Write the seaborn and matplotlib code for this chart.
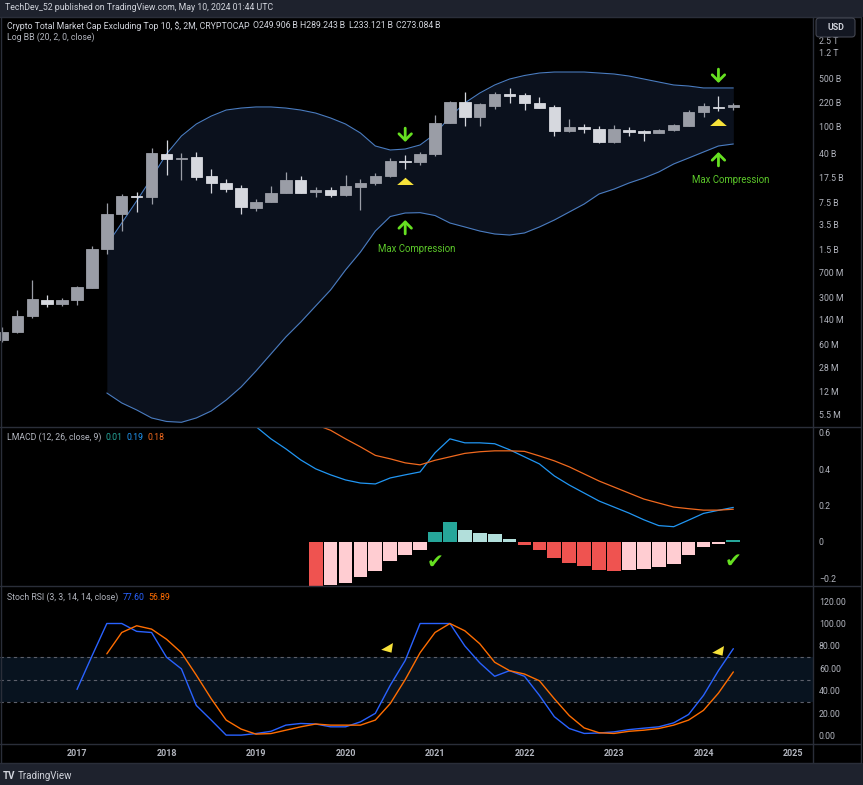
import numpy as np
import pandas as pd
import matplotlib
matplotlib.use('Agg')
import matplotlib.pyplot as plt
import seaborn as sns
from matplotlib.patches import Rectangle, FancyBboxPatch
from matplotlib.lines import Line2D
from matplotlib.ticker import FixedLocator, NullLocator

# ---------------- data (prices in billions USD) ----------------
first_bar = '2016-03-01'
opens = [0.070, 0.092, 0.160, 0.273, 0.236, 0.273, 0.41, 1.54, 5.0, 9.3,
         9.0, 38.9, 32.5, 35.5, 18.4, 14.7, 12.2, 6.3, 7.6, 10.5,
         16.1, 10.7, 11.4, 9.66, 12.8, 14.7, 18.4, 30.5, 29.8, 38.9,
         110, 229, 138, 200, 298, 288, 222, 190, 85, 98,
         92, 57.5, 89, 84, 78, 87.8, 102, 160, 195, 190]
highs = [0.110, 0.194, 0.54, 0.324, 0.29, 0.44, 1.7, 7.3, 10.0, 10.7,
         47, 62.5, 40, 41.6, 23.5, 16.7, 13.5, 8.3, 13.1, 21.1,
         18.4, 12.8, 12.8, 19.3, 16.7, 20.2, 33.7, 37.7, 41.6, 145,
         237, 316, 222, 316, 362, 305, 272, 205, 127, 106,
         100.6, 104, 98, 87.8, 92, 106, 173, 218, 279, 218]
lows = [0.066, 0.089, 0.150, 0.215, 0.22, 0.23, 0.41, 1.30, 2.8, 5.4,
        7.2, 18.8, 16.1, 15.8, 10.5, 10.6, 5.06, 5.7, 7.5, 10.3,
        10.3, 8.9, 8.9, 9.3, 5.8, 13.5, 18, 23.3, 26.7, 36,
        110, 102, 102, 178, 218, 173, 183, 71, 82, 78,
        56, 57, 71, 60, 78, 85, 100.6, 136, 169, 176]
closes = [0.092, 0.160, 0.28, 0.236, 0.273, 0.424, 1.54, 5.06, 9.3, 9.1,
          40, 32.5, 34.5, 18, 14.7, 12.0, 6.42, 7.6, 10.5, 16.1,
          10.5, 11.4, 9.66, 13.1, 14.7, 18.4, 31, 29.8, 38.9, 112,
          229, 138, 212, 298, 279, 218, 183, 85, 98, 90,
          57.5, 90, 82, 79, 89, 104, 164, 198, 183, 205]

bb_start = '2017-05-01'
bb_upper = [1.77, 3.73, 7.88, 17.2, 38.9, 71.6, 107.6, 141, 173, 185,
            192, 192, 185, 173, 156, 132, 107.6, 79.3, 51, 44.5,
            46, 52.8, 76.7, 137, 220, 308, 405, 496, 559, 608,
            629, 629, 629, 608, 588, 549, 496, 448, 405, 391,
            366, 366, 366]
bb_lower = [0.0116, 0.00827, 0.00652, 0.00497, 0.00441, 0.00429, 0.00497, 0.0063, 0.00914, 0.01423,
            0.0245, 0.0437, 0.0778, 0.129, 0.223, 0.384, 0.756, 1.39, 2.84, 4.65,
            5.24, 5.30, 4.81, 3.73, 3.26, 2.84, 2.57, 2.48, 2.66, 3.26,
            4.13, 5.42, 7.11, 10.0, 11.8, 14.5, 17.2, 21.1, 27.7, 33.9,
            41.6, 51, 54.6]

macd_start = '2018-09-01'
macd_line = [0.82, 0.72, 0.634, 0.567, 0.512, 0.451, 0.402, 0.369,
             0.341, 0.324, 0.319, 0.352, 0.369, 0.385,
             0.49, 0.567, 0.545, 0.545, 0.540, 0.507,
             0.468, 0.429, 0.363, 0.313, 0.269, 0.225,
             0.192, 0.159, 0.122, 0.09, 0.084, 0.12,
             0.157, 0.174, 0.19]
signal_line = [1.0, 0.93, 0.86, 0.80, 0.74, 0.69, 0.645, 0.614,
               0.567, 0.523, 0.476, 0.457, 0.435, 0.424,
               0.449, 0.468, 0.487, 0.496, 0.501, 0.501,
               0.498, 0.473, 0.446, 0.413, 0.374, 0.335,
               0.302, 0.269, 0.236, 0.214, 0.192, 0.183,
               0.175, 0.175, 0.18]
hist_start = '2019-09-01'
macd_hist = [-0.24, -0.238, -0.226, -0.193, -0.160, -0.105, -0.073, -0.042,
             0.055, 0.109, 0.065, 0.050, 0.043, 0.019,
             -0.014, -0.046, -0.086, -0.114, -0.132, -0.156,
             -0.157, -0.155, -0.150, -0.140, -0.121, -0.073,
             -0.027, -0.009, 0.013]

stoch_k_start = '2017-01-01'
stoch_k = [41.3, 71, 100, 100, 93, 92,
           70, 59.6, 27, 14, 0.6, 0.6,
           2, 4, 9.5, 11, 10.5, 8,
           8, 12.4, 20, 45, 67, 100,
           100, 100, 80, 65, 53, 58,
           53, 36, 17, 6.5, 2.1, 2.5,
           3.5, 5.5, 6.8, 8, 11.5, 19,
           36, 58, 77.6]
stoch_d_start = '2017-05-01'
stoch_d = [73, 92, 98, 95,
           86, 74, 54, 33, 14, 6,
           1.5, 2, 5, 8, 10.5, 9.5,
           9.5, 9.5, 14, 28.7, 50, 74,
           92, 100, 93.5, 82, 65.5, 58,
           55, 49, 33, 18, 7, 2.7,
           2.1, 4, 5, 6.5, 9.5, 14,
           22.7, 38, 56.89]

price_ticks = [2500, 1200, 500, 220, 100, 40, 17.5, 7.5, 3.5, 1.5,
               0.7, 0.3, 0.14, 0.06, 0.028, 0.012, 0.0055]
price_tick_labels = ['2.5 T', '1.2 T', '500 B', '220 B', '100 B', '40 B', '17.5 B', '7.5 B',
                     '3.5 B', '1.5 B', '700 M', '300 M', '140 M', '60 M', '28 M', '12 M', '5.5 M']
macd_ticks = [-0.2, 0.0, 0.2, 0.4, 0.6]
macd_tick_labels = ['\u22120.2', '0', '0.2', '0.4', '0.6']
stoch_ticks = [0, 20, 40, 60, 80, 100, 120]
stoch_tick_labels = ['0.00', '20.00', '40.00', '60.00', '80.00', '100.00', '120.00']
stoch_levels = [30, 50, 70]
year_ticks = [2017, 2018, 2019, 2020, 2021, 2022, 2023, 2024, 2025]

title_text = 'TechDev_52 published on TradingView.com, May 10, 2024 01:44 UTC'
symbol_text = 'Crypto Total Market Cap Excluding Top 10, $, 2M, CRYPTOCAP'
ohlc_parts = ['O249.906\u2009B', 'H289.243\u2009B', 'L233.121\u2009B', 'C273.084\u2009B']
bb_text = 'Log BB (20, 2, 0, close)'
macd_text = 'LMACD (12, 26, close, 9)'
macd_values = ['0.01', '0.19', '0.18']
stoch_text = 'Stoch RSI (3, 3, 14, 14, close)'
stoch_values = ['77.60', '56.89']
note_text = 'Max Compression'

# annotation anchors (decimal year, value)
arrow_down_tips = [(2020.667, 58.4), (2024.167, 433)]
arrow_up_tips = [(2020.667, 4.13), (2024.167, 41.6)]
yellow_price_marks = [(2020.667, 15.5), (2024.167, 115)]
note_positions = [(2020.80, 1.54), (2024.30, 15.8)]
stoch_marks = [(2020.475, 78.5), (2024.168, 75.1)]
check_marks = [(2021.0, -0.11), (2024.333, -0.104)]

# ---------------- style ----------------
sns.set_style('dark', {'axes.facecolor': '#000000', 'figure.facecolor': '#000000'})
plt.rcParams['font.family'] = ['Roboto', 'DejaVu Sans']

BG = '#000000'
STRIP = '#1e222d'
SEP = '#2a2e39'
TXT = '#b2b5be'
TXT2 = '#d1d4dc'
UP = '#9a9da6'
DOWN = '#d6d8de'
BB_LINE = '#4a7cc0'
BB_FILL = '#0b111d'
MACD_C = '#2196f3'
SIG_C = '#f0691e'
K_C = '#2962ff'
D_C = '#ff6d00'
GREEN = '#66e021'
GREEN_T = '#5cc82a'
YELLOW = '#f7e23a'
FS = 6.3

W, H = 863, 785
fig = plt.figure(figsize=(W / 100, H / 100), dpi=100)
fig.patch.set_facecolor(BG)


def rect(x0, y0, x1, y1):
    return [x0 / W, 1 - y1 / H, (x1 - x0) / W, (y1 - y0) / H]


def dec_years(dates):
    d = pd.DatetimeIndex(dates)
    return np.asarray(d.year + (d.month - 1) / 12.0, dtype=float)


PLOT_R = 813
ax_p = fig.add_axes(rect(0, 17, PLOT_R, 427))
ax_m = fig.add_axes(rect(0, 427, PLOT_R, 586))
ax_s = fig.add_axes(rect(0, 586, PLOT_R, 744))
x_left = 2017 - 77 / 89.5
x_right = 2017 + (PLOT_R - 77) / 89.5

for ax in (ax_p, ax_m, ax_s):
    ax.set_facecolor(BG)
    ax.grid(False)
    for s in ax.spines.values():
        s.set_visible(False)
    ax.yaxis.tick_right()
    ax.tick_params(axis='y', length=0, pad=4.3, labelsize=FS, labelcolor=TXT)
    ax.tick_params(axis='x', length=0)

# ---------------- price panel ----------------
ax_p.set_yscale('log')
t_bars = dec_years(pd.date_range(first_bar, periods=len(opens), freq='2MS'))
o, h, l, c = (np.array(v, dtype=float) for v in (opens, highs, lows, closes))
cols = np.where(c >= o, UP, DOWN)

t_bb = dec_years(pd.date_range(bb_start, periods=len(bb_upper), freq='2MS'))
ax_p.fill_between(t_bb, bb_lower, bb_upper, color=BB_FILL, lw=0, zorder=1)
sns.lineplot(x=t_bb, y=bb_upper, ax=ax_p, color=BB_LINE, lw=0.8, zorder=2,
             estimator=None, sort=False)
sns.lineplot(x=t_bb, y=bb_lower, ax=ax_p, color=BB_LINE, lw=0.8, zorder=2,
             estimator=None, sort=False)

ax_p.vlines(t_bars, l, h, colors=cols, lw=0.9, zorder=3)
lo_b = np.minimum(o, c)
hi_b = np.maximum(o, c)
ax_p.bar(t_bars, hi_b - lo_b, bottom=lo_b, width=0.128, color=cols,
         edgecolor=cols, linewidth=0.6, zorder=4)

ax_p.set_ylim(0.003655, 4075)
ax_p.yaxis.set_major_locator(FixedLocator(price_ticks))
ax_p.yaxis.set_minor_locator(NullLocator())
# the top label sits just under the currency button, so it is drawn on its own below
ax_p.set_yticklabels([''] + price_tick_labels[1:])

# annotations on the price panel
for (tx, py) in arrow_down_tips:
    ax_p.annotate('', xy=(tx, py), xytext=(0, 10), textcoords='offset points',
                  arrowprops=dict(arrowstyle='->,head_length=0.45,head_width=0.45',
                                  color=GREEN, lw=2.0, shrinkA=0, shrinkB=0), zorder=6)
for (tx, py) in arrow_up_tips:
    ax_p.annotate('', xy=(tx, py), xytext=(0, -10), textcoords='offset points',
                  arrowprops=dict(arrowstyle='->,head_length=0.45,head_width=0.45',
                                  color=GREEN, lw=2.0, shrinkA=0, shrinkB=0), zorder=6)
tri = [(-1, -0.42), (1, -0.42), (0, 0.45)]
for (tx, py) in yellow_price_marks:
    ax_p.plot([tx], [py], marker=tri, ms=12, color=YELLOW, mec='none', ls='none', zorder=6)
for (tx, py) in note_positions:
    ax_p.text(tx, py, note_text, color=GREEN_T, fontsize=FS + 0.6, ha='center', va='center', zorder=6)

# ---------------- LMACD panel ----------------
t_macd = dec_years(pd.date_range(macd_start, periods=len(macd_line), freq='2MS'))
t_hist = dec_years(pd.date_range(hist_start, periods=len(macd_hist), freq='2MS'))
hcols = []
for i, v in enumerate(macd_hist):
    prev = macd_hist[i - 1] if i > 0 else None
    if v >= 0:
        hcols.append('#26a69a' if (prev is None or v > prev) else '#b2dfdb')
    else:
        hcols.append('#ef5350' if (prev is None or v < prev) else '#ffcdd2')
ax_m.bar(t_hist, macd_hist, width=0.154, color=hcols, linewidth=0, zorder=2)
sns.lineplot(x=t_macd, y=macd_line, ax=ax_m, color=MACD_C, lw=0.9, zorder=3,
             estimator=None, sort=False)
sns.lineplot(x=t_macd, y=signal_line, ax=ax_m, color=SIG_C, lw=0.9, zorder=3,
             estimator=None, sort=False)
ax_m.set_ylim(-0.242, 0.632)
ax_m.set_yticks(macd_ticks)
ax_m.set_yticklabels(macd_tick_labels)
for (tx, v) in check_marks:
    ax_m.text(tx, v, '\u2714', color=GREEN, fontsize=14.5, ha='center', va='center',
              family='DejaVu Sans', zorder=6)

# ---------------- Stoch RSI panel ----------------
ax_s.axhspan(min(stoch_levels), max(stoch_levels), color='#08131f', lw=0, zorder=1)
for lv in stoch_levels:
    ax_s.axhline(lv, color='#5d606b', lw=0.8, ls=(0, (3, 3)), zorder=2)
t_k = dec_years(pd.date_range(stoch_k_start, periods=len(stoch_k), freq='2MS'))
t_d = dec_years(pd.date_range(stoch_d_start, periods=len(stoch_d), freq='2MS'))
sns.lineplot(x=t_k, y=stoch_k, ax=ax_s, color=K_C, lw=1.0, zorder=3, estimator=None, sort=False)
sns.lineplot(x=t_d, y=stoch_d, ax=ax_s, color=D_C, lw=1.0, zorder=3, estimator=None, sort=False)
ax_s.set_ylim(-7.3, 133.4)
ax_s.set_yticks(stoch_ticks)
ax_s.set_yticklabels(stoch_tick_labels)
wedge = [(-6.8, -1.2), (4.2, 5.1), (2.8, -3.9)]
for (tx, v) in stoch_marks:
    ax_s.plot([tx], [v], marker=wedge, ms=10.5, color=YELLOW, mec='none', ls='none', zorder=6)

for ax in (ax_p, ax_m, ax_s):
    ax.set_xlim(x_left, x_right)
    ax.set_xlabel('')
    ax.set_ylabel('')
ax_p.set_xticks([])
ax_m.set_xticks([])
ax_s.set_xticks(year_ticks)
ax_s.set_xticklabels([str(y) for y in year_ticks])
ax_s.tick_params(axis='x', labelsize=FS + 0.2, labelcolor=TXT, pad=3.5)
for lab in ax_s.get_xticklabels():
    lab.set_fontweight('bold')

# ---------------- frame, strips, texts ----------------
fig.add_artist(Rectangle((0, 1 - 17 / H), 1, 17 / H, transform=fig.transFigure,
                         color=STRIP, lw=0, zorder=-1))
fig.add_artist(Rectangle((0, 0), 1, (H - 763) / H, transform=fig.transFigure,
                         color=STRIP, lw=0, zorder=-1))
for yy in (17, 427, 586, 744, 763):
    fig.add_artist(Line2D([0, 861 / W], [1 - yy / H] * 2, transform=fig.transFigure,
                          color=SEP, lw=1, zorder=5))
for xx in (1, PLOT_R, 861):
    fig.add_artist(Line2D([xx / W] * 2, [1 - 17 / H, 1 - 763 / H], transform=fig.transFigure,
                          color=SEP, lw=1, zorder=5))

fig.add_artist(FancyBboxPatch((816 / W, 1 - 37 / H), 39 / W, 19 / H,
                              boxstyle='round,pad=0,rounding_size=0.004',
                              transform=fig.transFigure, fc='#131722', ec='#434651',
                              lw=0.8, zorder=7))
fig.text(835.5 / W, 1 - 27.5 / H, 'USD', color=TXT2, fontsize=FS, fontweight='bold',
         ha='center', va='center', zorder=8)
fig.text(819 / W, 1 - 42 / H, price_tick_labels[0], color=TXT, fontsize=FS,
         ha='left', va='center', zorder=6)

renderer = fig.canvas.get_renderer()


def seq_text(x_px, y_px, parts, size=FS, gap=4):
    x = x_px
    for s, col in parts:
        t = fig.text(x / W, 1 - y_px / H, s, color=col, fontsize=size, ha='left',
                     va='center', zorder=8)
        x += t.get_window_extent(renderer=renderer).width + gap


seq_text(5, 8, [(title_text, TXT2)])
seq_text(7, 25.7, [(symbol_text, TXT2)] + [(p, TXT2) for p in ohlc_parts], gap=3)
seq_text(7, 37, [(bb_text, TXT)])
seq_text(7, 437.5, [(macd_text, TXT), (macd_values[0], '#26a69a'),
                    (macd_values[1], MACD_C), (macd_values[2], SIG_C)])
seq_text(7, 597.5, [(stoch_text, TXT), (stoch_values[0], K_C), (stoch_values[1], D_C)])

fig.text(3 / W, 1 - 776 / H, 'TV', color=TXT2, fontsize=7, fontweight='bold',
         ha='left', va='center')
fig.text(18 / W, 1 - 776 / H, 'TradingView', color=TXT2, fontsize=7,
         ha='left', va='center')

fig.savefig('out.png', dpi=100, facecolor=fig.get_facecolor())
